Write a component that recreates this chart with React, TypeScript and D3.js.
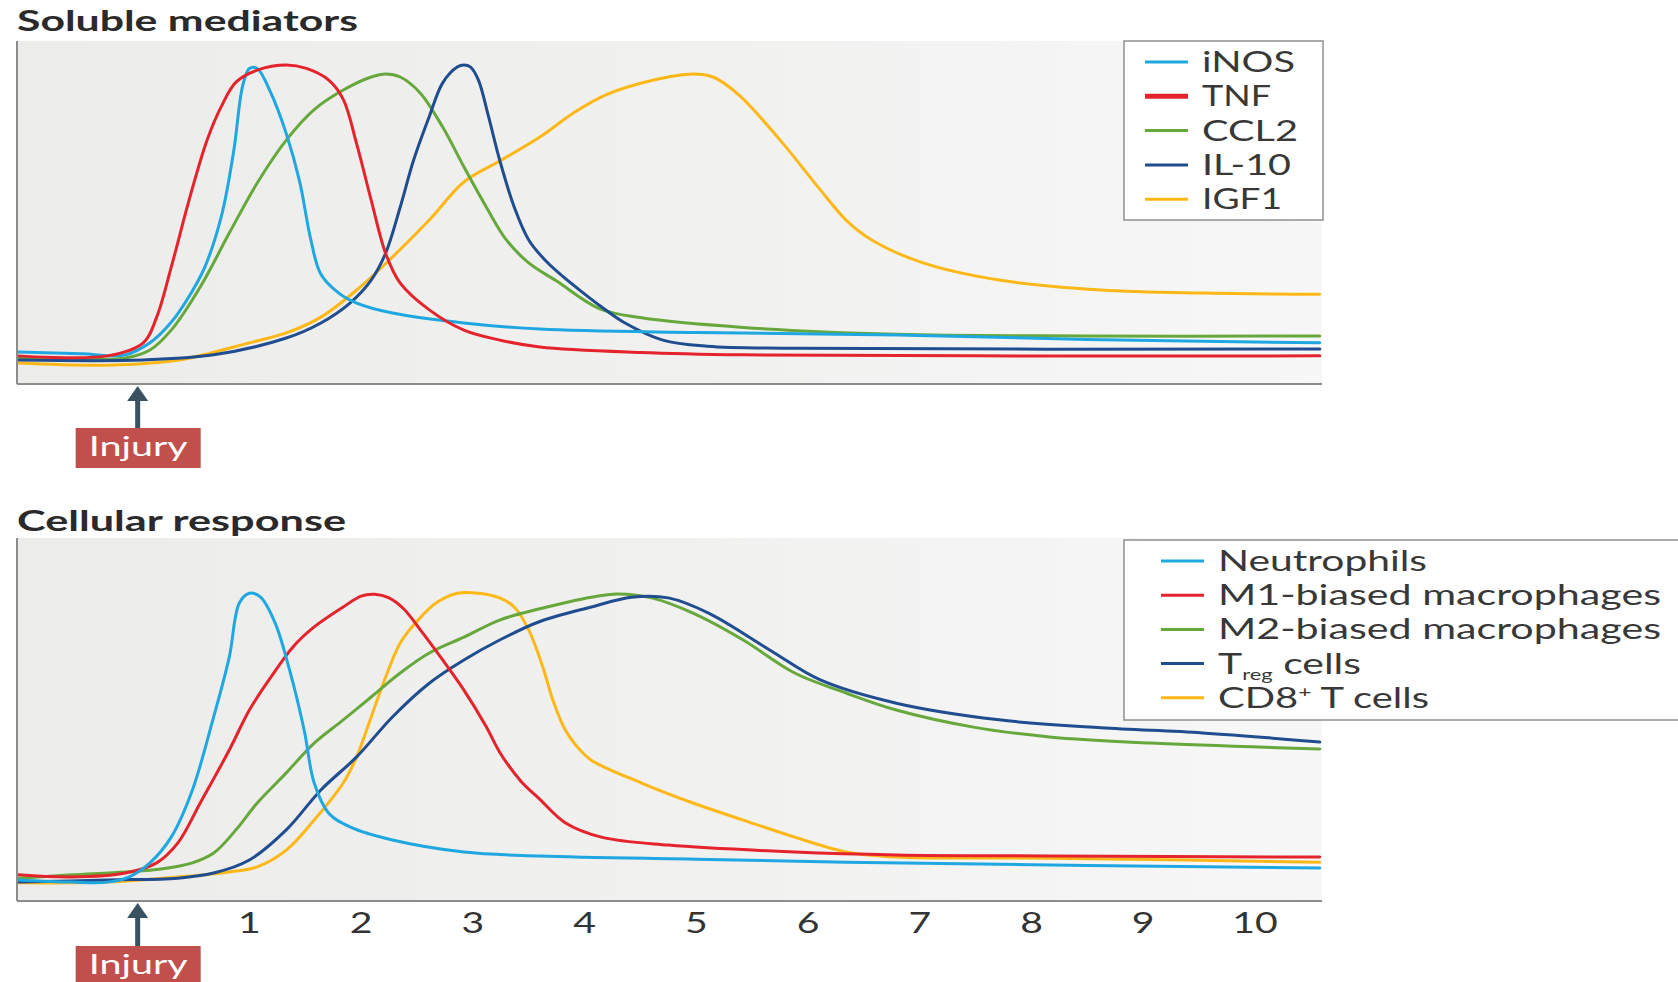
import React from "react";
import * as d3 from "d3";

type Pt = [number, number];

// Days after injury shown on the shared time axis
const tickDays = [1, 2, 3, 4, 5, 6, 7, 8, 9, 10];

// Soluble mediators (relative level vs. day)
const mediatorNames = ["iNOS", "TNF", "CCL2", "IL-10", "IGF1"];
const iNOS: Pt[] = [
  [-1.07, 0.093], [-0.5, 0.088], [-0.11, 0.085], [0.11, 0.12], [0.3, 0.18], [0.45, 0.25],
  [0.6, 0.34], [0.75, 0.49], [0.86, 0.68], [0.94, 0.87], [1.0, 0.92], [1.07, 0.92], [1.19, 0.85],
  [1.33, 0.73], [1.45, 0.59], [1.55, 0.42], [1.64, 0.32], [1.8, 0.265], [1.96, 0.236],
  [2.28, 0.207], [2.92, 0.178], [3.6, 0.16], [5.0, 0.15], [6.8, 0.143], [8.5, 0.13], [10.58, 0.12],
];
const TNF: Pt[] = [
  [-1.07, 0.082], [-0.27, 0.082], [0.05, 0.12], [0.17, 0.195], [0.3, 0.34], [0.46, 0.536],
  [0.62, 0.71], [0.75, 0.81], [0.88, 0.88], [1.07, 0.915], [1.33, 0.93], [1.51, 0.92],
  [1.71, 0.886], [1.84, 0.83], [1.96, 0.7], [2.09, 0.536], [2.22, 0.38], [2.35, 0.294],
  [2.61, 0.216], [2.92, 0.157], [3.24, 0.128], [3.6, 0.108], [4.5, 0.092], [5.42, 0.085],
  [7.5, 0.082], [10.58, 0.082],
];
const CCL2: Pt[] = [
  [-1.07, 0.076], [-0.11, 0.076], [0.11, 0.099], [0.3, 0.157], [0.56, 0.283], [0.82, 0.44],
  [1.07, 0.586], [1.33, 0.711], [1.58, 0.8], [1.84, 0.857], [2.09, 0.895], [2.22, 0.904],
  [2.35, 0.895], [2.53, 0.848], [2.73, 0.749], [2.92, 0.633], [3.12, 0.516], [3.3, 0.42],
  [3.5, 0.353], [3.75, 0.3], [4.13, 0.22], [4.51, 0.193], [5.42, 0.165], [6.79, 0.145],
  [8.5, 0.14], [10.58, 0.14],
];
const IL10: Pt[] = [
  [-1.07, 0.07], [0.05, 0.07], [0.68, 0.085], [1.33, 0.134], [1.64, 0.178], [1.9, 0.236],
  [2.09, 0.303], [2.22, 0.382], [2.35, 0.516], [2.47, 0.653], [2.61, 0.78], [2.73, 0.878],
  [2.86, 0.924], [2.92, 0.93], [2.98, 0.924], [3.05, 0.886], [3.14, 0.78], [3.24, 0.653],
  [3.37, 0.516], [3.5, 0.42], [3.65, 0.36], [3.8, 0.315], [3.97, 0.27], [4.15, 0.225],
  [4.35, 0.18], [4.7, 0.128], [5.1, 0.11], [5.88, 0.104], [10.58, 0.102],
];
const IGF1: Pt[] = [
  [-1.07, 0.061], [-0.27, 0.055], [0.37, 0.07], [1.0, 0.12], [1.33, 0.149], [1.64, 0.195],
  [1.96, 0.274], [2.28, 0.37], [2.61, 0.478], [2.92, 0.589], [3.24, 0.65], [3.6, 0.72],
  [3.9, 0.79], [4.19, 0.843], [4.6, 0.885], [4.97, 0.904], [5.15, 0.895], [5.38, 0.843],
  [5.75, 0.711], [6.11, 0.566], [6.34, 0.478], [6.57, 0.42], [7.03, 0.353], [7.71, 0.303],
  [8.62, 0.274], [9.53, 0.265], [10.58, 0.262],
];

// Cellular response (relative abundance vs. day)
const cellNames = ["Neutrophils", "M1-biased macrophages", "M2-biased macrophages", "Treg cells", "CD8+ T cells"];
const neutrophils: Pt[] = [
  [-1.07, 0.058], [-0.59, 0.052], [-0.27, 0.052], [-0.08, 0.066], [0.11, 0.105], [0.3, 0.176],
  [0.49, 0.306], [0.68, 0.507], [0.82, 0.672], [0.91, 0.821], [1.0, 0.848], [1.1, 0.837],
  [1.23, 0.766], [1.36, 0.636], [1.49, 0.471], [1.58, 0.325], [1.71, 0.242], [1.9, 0.204],
  [2.28, 0.168], [2.92, 0.135], [3.6, 0.124], [5.0, 0.115], [6.34, 0.107], [8.5, 0.098], [10.58, 0.091],
];
const m1Macrophages: Pt[] = [
  [-1.07, 0.072], [-0.59, 0.066], [-0.11, 0.077], [0.17, 0.105], [0.36, 0.16], [0.56, 0.27],
  [0.82, 0.416], [1.0, 0.526], [1.2, 0.62], [1.39, 0.7], [1.58, 0.755], [1.84, 0.81],
  [2.0, 0.84], [2.12, 0.845], [2.25, 0.835], [2.38, 0.805], [2.53, 0.747], [2.73, 0.664], [2.92, 0.581],
  [3.12, 0.48], [3.24, 0.41], [3.43, 0.33], [3.6, 0.28], [3.83, 0.215], [4.15, 0.176],
  [4.75, 0.154], [5.88, 0.135], [6.79, 0.127], [8.16, 0.124], [10.58, 0.121],
];
const m2Macrophages: Pt[] = [
  [-1.07, 0.063], [-0.59, 0.072], [-0.11, 0.08], [0.21, 0.088], [0.49, 0.105], [0.68, 0.132],
  [0.88, 0.196], [1.07, 0.27], [1.33, 0.353], [1.58, 0.435], [1.84, 0.499], [2.09, 0.562],
  [2.35, 0.628], [2.61, 0.683], [2.92, 0.727], [3.24, 0.774], [3.6, 0.805], [4.06, 0.837],
  [4.29, 0.846], [4.6, 0.835], [4.97, 0.793], [5.42, 0.719], [5.88, 0.628], [6.34, 0.573],
  [6.79, 0.526], [7.48, 0.479], [8.16, 0.452], [9.07, 0.435], [10.58, 0.419],
];
const tregCells: Pt[] = [
  [-1.07, 0.052], [-0.27, 0.058], [0.36, 0.063], [0.68, 0.077], [1.0, 0.113], [1.33, 0.196],
  [1.64, 0.306], [1.96, 0.397], [2.28, 0.507], [2.61, 0.6], [2.92, 0.664], [3.24, 0.719],
  [3.6, 0.77], [4.06, 0.81], [4.42, 0.837], [4.75, 0.835], [5.11, 0.793], [5.66, 0.691],
  [6.11, 0.609], [6.79, 0.545], [7.71, 0.499], [8.62, 0.477], [9.53, 0.463], [10.58, 0.438],
];
const cd8Cells: Pt[] = [
  [-1.07, 0.05], [-0.27, 0.052], [0.36, 0.066], [0.82, 0.08], [1.07, 0.094], [1.33, 0.14],
  [1.58, 0.223], [1.84, 0.325], [1.96, 0.397], [2.09, 0.507], [2.22, 0.617], [2.35, 0.711],
  [2.51, 0.774], [2.67, 0.821], [2.86, 0.848], [3.05, 0.848], [3.24, 0.835], [3.37, 0.81],
  [3.5, 0.747], [3.62, 0.65], [3.72, 0.55], [3.82, 0.475], [3.92, 0.43], [4.06, 0.388],
  [4.51, 0.325], [4.97, 0.27], [5.42, 0.223], [5.88, 0.176], [6.34, 0.135], [6.79, 0.121],
  [8.16, 0.118], [10.58, 0.107],
];

const injuryDay = 0;

const COLORS = {
  lightBlue: "#1ea7e1",
  red: "#e5232c",
  green: "#66a83b",
  darkBlue: "#1f4d8f",
  yellow: "#fdb817",
};

const W = 1678;
const H = 982;
const PLOT_LEFT = 17;
const PLOT_RIGHT = 1322;
const TEXT_FONT = "Lato, 'Open Sans', sans-serif";

interface SeriesDef {
  name: string;
  data: Pt[];
  color: string;
  legendWidth: number;
}

const x = d3.scaleLinear().domain([-1.08, 10.6]).range([PLOT_LEFT, PLOT_RIGHT]);

function Panel(props: {
  top: number;
  bottom: number;
  title: string;
  titleBaseline: number;
  titleWidth: number;
  series: SeriesDef[];
  drawOrder: number[];
  legend: { x: number; y: number; w: number; h: number; lineX0: number; lineX1: number; textX: number; row0: number; rowStep: number };
  thickLegend?: number;
  renderLabel?: (s: SeriesDef) => React.ReactNode;
}) {
  const { top, bottom, series, legend } = props;
  const y = d3.scaleLinear().domain([0, 1]).range([bottom, top]);
  const line = d3
    .line<Pt>()
    .x((d) => x(d[0]))
    .y((d) => y(d[1]))
    .curve(d3.curveCatmullRom.alpha(0.5));
  return (
    <g>
      <text
        x={17}
        y={props.titleBaseline}
        fontFamily={TEXT_FONT}
        fontWeight={700}
        fontSize={28}
        fill="#2a2a2a"
        textLength={props.titleWidth}
        lengthAdjust="spacingAndGlyphs"
      >
        {props.title}
      </text>
      <rect x={PLOT_LEFT} y={top} width={PLOT_RIGHT - PLOT_LEFT} height={bottom - top} fill="url(#plotBg)" />
      {props.drawOrder.map((i) => (
        <path
          key={series[i].name}
          d={line(series[i].data) || ""}
          fill="none"
          stroke={series[i].color}
          strokeWidth={3}
          strokeLinejoin="round"
          strokeLinecap="round"
        />
      ))}
      <line x1={PLOT_LEFT} x2={PLOT_LEFT} y1={top} y2={bottom} stroke="#8c8c8c" strokeWidth={2} />
      <line x1={PLOT_LEFT} x2={PLOT_RIGHT} y1={bottom} y2={bottom} stroke="#8c8c8c" strokeWidth={2} />
      <rect
        x={legend.x}
        y={legend.y}
        width={legend.w}
        height={legend.h}
        fill="#ffffff"
        stroke="#8f8f8f"
        strokeWidth={1.5}
      />
      {series.map((s, i) => {
        const ry = legend.row0 + i * legend.rowStep;
        return (
          <g key={s.name}>
            <line
              x1={legend.lineX0}
              x2={legend.lineX1}
              y1={ry}
              y2={ry}
              stroke={s.color}
              strokeWidth={props.thickLegend === i ? 5 : 3}
            />
            <text
              x={legend.textX}
              y={ry + 10}
              fontFamily={TEXT_FONT}
              fontSize={28}
              fill="#383838"
              textLength={s.legendWidth}
              lengthAdjust="spacingAndGlyphs"
            >
              {props.renderLabel ? props.renderLabel(s) : s.name}
            </text>
          </g>
        );
      })}
    </g>
  );
}

function InjuryMarker(props: { axisY: number; boxTop: number }) {
  const cx = x(injuryDay);
  const tip = props.axisY + 2;
  const headBase = tip + 15;
  return (
    <g>
      <line x1={cx} x2={cx} y1={headBase - 1} y2={props.boxTop} stroke="#3a5160" strokeWidth={5} />
      <path d={`M${cx},${tip} L${cx + 10.5},${headBase} L${cx - 10.5},${headBase} Z`} fill="#3a5160" />
      <rect x={cx - 62} y={props.boxTop} width={125} height={40} fill="#c1504d" />
      <text
        x={cx - 49}
        y={props.boxTop + 28}
        fontFamily={TEXT_FONT}
        fontSize={26}
        fill="#ffffff"
        textLength={99}
        lengthAdjust="spacingAndGlyphs"
      >
        Injury
      </text>
    </g>
  );
}

export default function App() {
  const mediators: SeriesDef[] = [
    { name: mediatorNames[0], data: iNOS, color: COLORS.lightBlue, legendWidth: 93 },
    { name: mediatorNames[1], data: TNF, color: COLORS.red, legendWidth: 69 },
    { name: mediatorNames[2], data: CCL2, color: COLORS.green, legendWidth: 96 },
    { name: mediatorNames[3], data: IL10, color: COLORS.darkBlue, legendWidth: 89 },
    { name: mediatorNames[4], data: IGF1, color: COLORS.yellow, legendWidth: 80 },
  ];
  const cells: SeriesDef[] = [
    { name: cellNames[0], data: neutrophils, color: COLORS.lightBlue, legendWidth: 209 },
    { name: cellNames[1], data: m1Macrophages, color: COLORS.red, legendWidth: 443 },
    { name: cellNames[2], data: m2Macrophages, color: COLORS.green, legendWidth: 443 },
    { name: cellNames[3], data: tregCells, color: COLORS.darkBlue, legendWidth: 143 },
    { name: cellNames[4], data: cd8Cells, color: COLORS.yellow, legendWidth: 211 },
  ];

  const cellLabel = (s: SeriesDef) => {
    if (s.name === "Treg cells") {
      return (
        <>
          <tspan>T</tspan>
          <tspan fontSize={15} dy={6}>reg</tspan>
          <tspan dy={-6}> cells</tspan>
        </>
      );
    }
    if (s.name === "CD8+ T cells") {
      return (
        <>
          <tspan>CD8</tspan>
          <tspan fontSize={16} dy={-11}>+</tspan>
          <tspan dy={11}> T cells</tspan>
        </>
      );
    }
    return s.name;
  };

  return (
    <svg
      width={W}
      height={H}
      viewBox={`0 0 ${W} ${H}`}
      style={{ position: "fixed", left: 0, top: 0, display: "block", background: "#ffffff" }}
    >
      <defs>
        <linearGradient id="plotBg" x1="0" y1="0" x2="1" y2="0">
          <stop offset="0" stopColor="#ececea" />
          <stop offset="0.55" stopColor="#f1f1f0" />
          <stop offset="1" stopColor="#f7f7f7" />
        </linearGradient>
      </defs>
      <rect x={0} y={0} width={W} height={H} fill="#ffffff" />

      <Panel
        top={41}
        bottom={384}
        title="Soluble mediators"
        titleBaseline={31}
        titleWidth={341}
        series={mediators}
        drawOrder={[4, 2, 3, 0, 1]}
        thickLegend={1}
        legend={{ x: 1124, y: 41, w: 199, h: 179, lineX0: 1145, lineX1: 1188, textX: 1202, row0: 62, rowStep: 34.3 }}
      />
      <InjuryMarker axisY={384} boxTop={428} />

      <Panel
        top={538}
        bottom={901}
        title="Cellular response"
        titleBaseline={531}
        titleWidth={329}
        series={cells}
        drawOrder={[4, 2, 3, 1, 0]}
        renderLabel={cellLabel}
        legend={{ x: 1124, y: 540, w: 600, h: 180, lineX0: 1161, lineX1: 1204, textX: 1218, row0: 561, rowStep: 34.2 }}
      />

      {tickDays.map((d) => (
        <text
          key={d}
          transform={`translate(${x(d)},933) scale(1.4,1)`}
          textAnchor="middle"
          fontFamily={TEXT_FONT}
          fontSize={28}
          fill="#333333"
        >
          {d}
        </text>
      ))}
      <InjuryMarker axisY={901} boxTop={946} />
    </svg>
  );
}
